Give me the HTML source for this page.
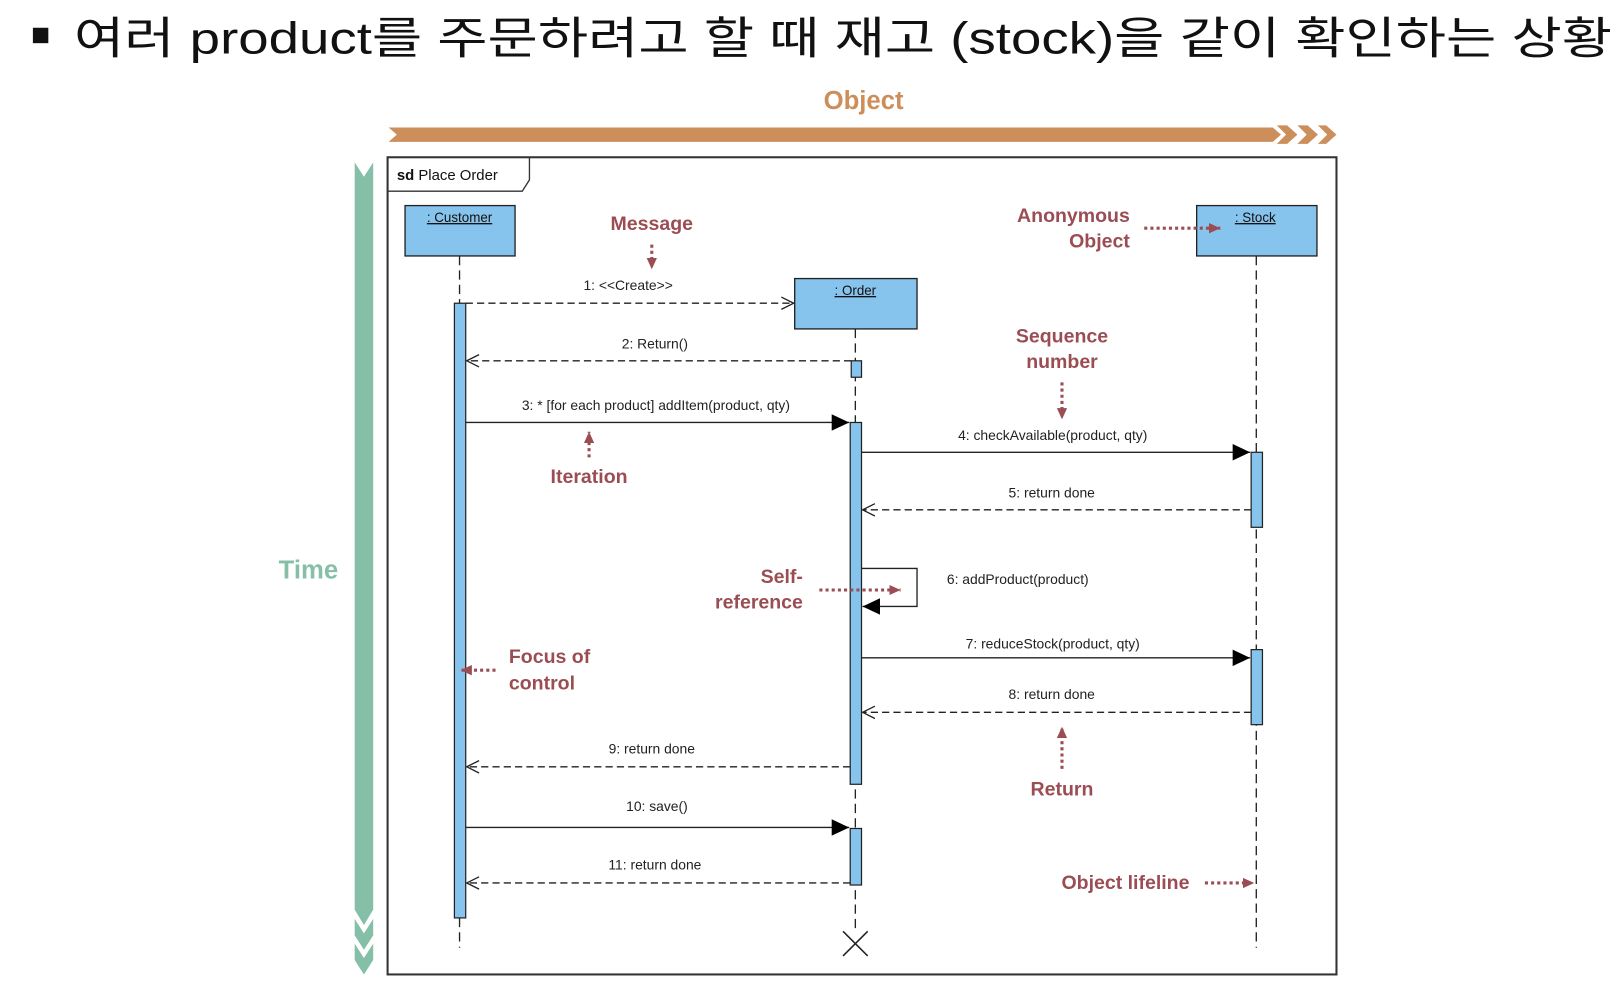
<!DOCTYPE html>
<html><head><meta charset="utf-8"><style>
html,body{margin:0;padding:0;background:#fff;width:1612px;height:995px;overflow:hidden}
svg{display:block}
.t{font-family:"Liberation Sans",Arial,sans-serif;font-size:13.5px;fill:#222;text-anchor:middle}
.a{font-family:"Liberation Sans",Arial,sans-serif;font-size:19px;font-weight:bold;fill:#9B4D54}
.ob{font-family:"Liberation Sans",Arial,sans-serif;font-size:13px;fill:#111;text-anchor:middle;text-decoration:underline}
</style></head><body>
<svg width="1612" height="995" viewBox="0 0 1568 968" preserveAspectRatio="none" xmlns="http://www.w3.org/2000/svg">
<defs>
<marker id="open" markerWidth="14" markerHeight="14" refX="13" refY="7" orient="auto" markerUnits="userSpaceOnUse"><path d="M1,1 L13,7 L1,13" fill="none" stroke="#222" stroke-width="1.3"/></marker>
<marker id="fill" markerWidth="18" markerHeight="16" refX="17" refY="8" orient="auto" markerUnits="userSpaceOnUse"><path d="M0,0 L17,8 L0,16 Z" fill="#000"/></marker>
<marker id="red" markerWidth="12" markerHeight="12" refX="11" refY="6" orient="auto" markerUnits="userSpaceOnUse"><path d="M0,1 L11,6 L0,11 Z" fill="#9B4D54"/></marker>
</defs>
<!-- title -->
<rect x="32" y="27" width="15" height="15" fill="#111"/>
<text x="72" y="52" textLength="1496" lengthAdjust="spacingAndGlyphs" font-family="'Liberation Sans','Noto Sans CJK KR',sans-serif" font-size="43" fill="#111">여러 product를 주문하려고 할 때 재고 (stock)을 같이 확인하는 상황</text>
<!-- object band -->
<text x="840" y="106" text-anchor="middle" font-family="'Liberation Sans',sans-serif" font-size="25" font-weight="bold" fill="#CC8E5A">Object</text>
<path d="M378,124 L1238,124 L1246,131 L1238,138 L378,138 L386,131 Z" fill="#CC8E5A"/>
<path d="M1242,122 L1252,122 L1262,131 L1252,140 L1242,140 L1251,131 Z" fill="#CC8E5A"/>
<path d="M1262,122 L1272,122 L1282,131 L1272,140 L1262,140 L1271,131 Z" fill="#CC8E5A"/>
<path d="M1282,122 L1290,122 L1300,131 L1290,140 L1282,140 L1291,131 Z" fill="#CC8E5A"/>
<!-- time band -->
<path d="M345,158 L354,172 L363,158 L363,885 L354,900 L345,885 Z" fill="#86BFA8"/>
<path d="M345,894 L354,908 L363,894 L363,910 L354,924 L345,910 Z" fill="#86BFA8"/>
<path d="M345,918 L354,932 L363,918 L363,934 L354,948 L345,934 Z" fill="#86BFA8"/>
<text x="300" y="563" text-anchor="middle" font-family="'Liberation Sans',sans-serif" font-size="25" font-weight="bold" fill="#86BFA8">Time</text>
<!-- frame -->
<rect x="377" y="153" width="923" height="795" fill="none" stroke="#333" stroke-width="2"/>
<path d="M377,186 L508,186 L515,175 L515,153" fill="none" stroke="#333" stroke-width="1.3"/>
<text x="386" y="175" font-family="'Liberation Sans',sans-serif" font-size="14.5" fill="#111"><tspan font-weight="bold">sd</tspan>  Place Order</text>
<!-- lifelines -->
<g stroke="#222" stroke-width="1.3" stroke-dasharray="9,5" fill="none">
<line x1="447" y1="249" x2="447" y2="922"/>
<line x1="832" y1="320" x2="832" y2="905"/>
<line x1="1222" y1="249" x2="1222" y2="922"/>
</g>
<path d="M820,906 L844,930 M844,906 L820,930" stroke="#222" stroke-width="1.5"/>
<!-- objects -->
<g fill="#87C4ED" stroke="#222" stroke-width="1.3">
<rect x="394" y="200" width="107" height="49"/>
<rect x="1164" y="200" width="117" height="49"/>
<rect x="773" y="271" width="119" height="49"/>
</g>
<text class="ob" x="447" y="216">: Customer</text>
<text class="ob" x="1221" y="216">: Stock</text>
<text class="ob" x="832" y="287">: Order</text>
<!-- activations -->
<g fill="#87C4ED" stroke="#222" stroke-width="1.2">
<rect x="442" y="295" width="11" height="598"/>
<rect x="828" y="351" width="10" height="16"/>
<rect x="827" y="411" width="11" height="352"/>
<rect x="827" y="806" width="11" height="55"/>
<rect x="1217" y="440" width="11" height="73"/>
<rect x="1217" y="632" width="11" height="73"/>
</g>
<!-- messages -->
<g stroke="#222" stroke-width="1.3" fill="none">
<line x1="453" y1="295" x2="772" y2="295" stroke-dasharray="7,4" marker-end="url(#open)"/>
<line x1="828" y1="351" x2="454" y2="351" stroke-dasharray="7,4" marker-end="url(#open)"/>
<line x1="453" y1="411" x2="826" y2="411" marker-end="url(#fill)"/>
<line x1="838" y1="440" x2="1216" y2="440" marker-end="url(#fill)"/>
<line x1="1217" y1="496" x2="839" y2="496" stroke-dasharray="7,4" marker-end="url(#open)"/>
<path d="M838,553 L892,553 L892,590 L839,590" marker-end="url(#fill)"/>
<line x1="838" y1="640" x2="1216" y2="640" marker-end="url(#fill)"/>
<line x1="1217" y1="693" x2="839" y2="693" stroke-dasharray="7,4" marker-end="url(#open)"/>
<line x1="827" y1="746" x2="454" y2="746" stroke-dasharray="7,4" marker-end="url(#open)"/>
<line x1="453" y1="805" x2="826" y2="805" marker-end="url(#fill)"/>
<line x1="827" y1="859" x2="454" y2="859" stroke-dasharray="7,4" marker-end="url(#open)"/>
</g>
<text class="t" x="611" y="282">1: &lt;&lt;Create&gt;&gt;</text>
<text class="t" x="637" y="339">2: Return()</text>
<text class="t" x="638" y="399">3: * [for each product] addItem(product, qty)</text>
<text class="t" x="1024" y="428">4: checkAvailable(product, qty)</text>
<text class="t" x="1023" y="484">5: return done</text>
<text class="t" x="990" y="568">6: addProduct(product)</text>
<text class="t" x="1024" y="631">7: reduceStock(product, qty)</text>
<text class="t" x="1023" y="680">8: return done</text>
<text class="t" x="634" y="733">9: return done</text>
<text class="t" x="639" y="789">10: save()</text>
<text class="t" x="637" y="846">11: return done</text>
<!-- annotations -->
<text class="a" x="634" y="224" text-anchor="middle">Message</text>
<text class="a" x="1099" y="216" text-anchor="end">Anonymous</text>
<text class="a" x="1099" y="241" text-anchor="end">Object</text>
<text class="a" x="1033" y="333" text-anchor="middle">Sequence</text>
<text class="a" x="1033" y="358" text-anchor="middle">number</text>
<text class="a" x="573" y="470" text-anchor="middle">Iteration</text>
<text class="a" x="781" y="567" text-anchor="end">Self-</text>
<text class="a" x="781" y="592" text-anchor="end">reference</text>
<text class="a" x="495" y="645">Focus of</text>
<text class="a" x="495" y="671">control</text>
<text class="a" x="1033" y="774" text-anchor="middle">Return</text>
<text class="a" x="1157" y="865" text-anchor="end">Object lifeline</text>
<g stroke="#9B4D54" stroke-width="3" stroke-dasharray="3,3" fill="none">
<line x1="634" y1="238" x2="634" y2="262" marker-end="url(#red)"/>
<line x1="1113" y1="222" x2="1187" y2="222" marker-end="url(#red)"/>
<line x1="1033" y1="372" x2="1033" y2="408" marker-end="url(#red)"/>
<line x1="573" y1="445" x2="573" y2="420" marker-end="url(#red)"/>
<line x1="797" y1="574" x2="876" y2="574" marker-end="url(#red)"/>
<line x1="482" y1="652" x2="448" y2="652" marker-end="url(#red)"/>
<line x1="1033" y1="748" x2="1033" y2="707" marker-end="url(#red)"/>
<line x1="1172" y1="859" x2="1220" y2="859" marker-end="url(#red)"/>
</g>
</svg>
</body></html>
